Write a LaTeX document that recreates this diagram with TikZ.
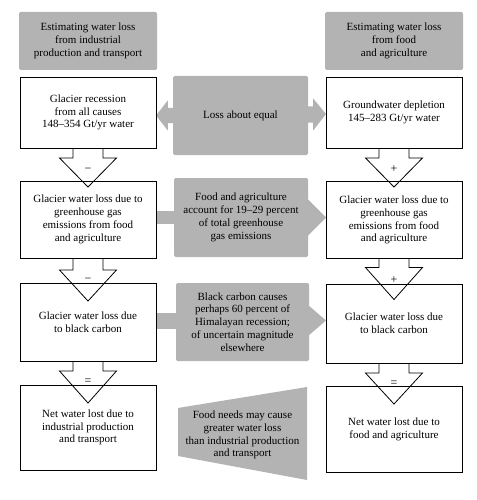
\documentclass[tikz,border=0pt]{standalone}
\usepackage{fontspec}
\setmainfont{Liberation Serif}
\usetikzlibrary{calc}
\definecolor{boxgray}{RGB}{179,179,179}
\begin{document}
\begin{tikzpicture}[x=1pt,y=-1pt,
  box/.style={draw=black, line width=0.8pt, align=center, inner sep=0pt, minimum width=136pt, font=\fontsize{11}{12.8}\selectfont},
  headbox/.style={fill=boxgray, rounded corners=1.5pt, align=center, inner sep=0pt, minimum width=138pt, minimum height=58pt, font=\fontsize{11}{12.8}\selectfont},
  midbox/.style={fill=boxgray, rounded corners=1.5pt, align=center, inner sep=0pt, font=\fontsize{11}{12.8}\selectfont},
  plaintext/.style={align=center, inner sep=0pt, font=\fontsize{11}{12.8}\selectfont},
  blockarrow/.style={draw=black, fill=white, line width=0.8pt},
  signlabel/.style={inner sep=0pt, font=\fontsize{12}{12}\selectfont}
]
\useasboundingbox (0,0) rectangle (476,500);

% bottom-centre points of the white boxes (sources of the block arrows)
\coordinate (l1s) at (88,148);
\coordinate (l2s) at (88,258);
\coordinate (l3s) at (88,361);
\coordinate (r1s) at (394,148);
\coordinate (r2s) at (394,258.5);
\coordinate (r3s) at (394,363);

% block arrows (drawn first)
\filldraw[blockarrow] (l1s) ++(-15,0) -- ++(0,10) -- ++(-13.5,0) -- ++(28.5,29) -- ++(28.5,-29) -- ++(-13.5,0) -- ++(0,-10);
\filldraw[blockarrow] (l2s) ++(-15,0) -- ++(0,12) -- ++(-13.5,0) -- ++(28.5,31) -- ++(28.5,-31) -- ++(-13.5,0) -- ++(0,-12);
\filldraw[blockarrow] (l3s) ++(-15,0) -- ++(0,10) -- ++(-13.5,0) -- ++(28.5,32) -- ++(28.5,-32) -- ++(-13.5,0) -- ++(0,-10);
\filldraw[blockarrow] (r1s) ++(-15,0) -- ++(0,10) -- ++(-13.5,0) -- ++(28.5,29) -- ++(28.5,-29) -- ++(-13.5,0) -- ++(0,-10);
\filldraw[blockarrow] (r2s) ++(-15,0) -- ++(0,9) -- ++(-13.5,0) -- ++(28.5,32) -- ++(28.5,-32) -- ++(-13.5,0) -- ++(0,-9);
\filldraw[blockarrow] (r3s) ++(-15,0) -- ++(0,10) -- ++(-13.5,0) -- ++(28.5,31) -- ++(28.5,-31) -- ++(-13.5,0) -- ++(0,-10);

% headers
\node[headbox] (hl) at (88,41) {Estimating water loss\\from industrial\\production and transport};
\node[headbox] (hr) at (394,41) {Estimating water loss\\from food\\and agriculture};

% middle gray shapes
\node[midbox, minimum width=135pt, minimum height=79pt] (m1) at (240.5,115.5) {Loss about equal};
\node[midbox, minimum width=134pt, minimum height=79pt] (m2) at (241,217.5) {Food and agriculture\\account for 19--29 percent\\of total greenhouse\\gas emissions};
\node[midbox, minimum width=133pt, minimum height=78pt] (m3) at (242.5,322) {Black carbon causes\\perhaps 60 percent of\\Himalayan recession;\\of uncertain magnitude\\elsewhere};

% gray connectors of m1
\fill[boxgray] ($(m1.west)+(1,-7.5)$) -- ($(m1.west)+(-5,-7.5)$) -- ($(m1.west)+(-5,-15)$)
  -- (156,115.5) -- ($(m1.west)+(-5,15)$) -- ($(m1.west)+(-5,7.5)$) -- ($(m1.west)+(1,7.5)$) -- cycle;
\fill[boxgray] ($(m1.east)+(-1,-9)$) -- ($(m1.east)+(5,-9)$) -- ($(m1.east)+(5,-17)$)
  -- (326,114) -- ($(m1.east)+(5,15)$) -- ($(m1.east)+(5,7)$) -- ($(m1.east)+(-1,7)$) -- cycle;
% gray connectors of m2
\fill[boxgray] ($(m2.west)+(1,-6.5)$) -- (156,211) -- (156,224) -- ($(m2.west)+(1,6.5)$) -- cycle;
\fill[boxgray] ($(m2.east)+(-1,-18)$) -- ($(m2.east)+(0,-18)$) -- (326,217.5) -- ($(m2.east)+(0,18)$) -- ($(m2.east)+(-1,18)$) -- cycle;
% gray connectors of m3
\fill[boxgray] ($(m3.west)+(1,-9)$) -- (156,313) -- (156,329) -- ($(m3.west)+(1,7)$) -- cycle;
\fill[boxgray] ($(m3.east)+(-1,-16)$) -- ($(m3.east)+(0,-16)$) -- (326,320.5) -- ($(m3.east)+(0,13)$) -- ($(m3.east)+(-1,13)$) -- cycle;

% trapezoid
\fill[boxgray] (178,408) -- (307,387) -- (307,480) -- (178,456) -- cycle;
\node[plaintext] (m4) at (242.5,435) {Food needs may cause\\greater water loss\\than industrial production\\and transport};

% white boxes (unfilled, so the arrows stay visible)
\node[box, minimum height=71pt] (l1) at (88,112.5) {Glacier recession\\from all causes\\148--354 Gt/yr water};
\node[box, minimum height=71pt] (r1) at (394,112.5) {Groundwater depletion\\145--283 Gt/yr water};
\node[box, minimum height=77pt] (l2) at (88,219.5) {Glacier water loss due to\\greenhouse gas\\emissions from food\\and agriculture};
\node[box, minimum height=77pt] (r2) at (394,220) {Glacier water loss due to\\greenhouse gas\\emissions from food\\and agriculture};
\node[box, minimum height=78pt] (l3) at (88,322) {Glacier water loss due\\to black carbon};
\node[box, minimum height=79pt] (r3) at (394,323.5) {Glacier water loss due\\to black carbon};
\node[box, minimum height=85pt] (l4) at (88,427.5) {Net water lost due to\\industrial production\\and transport};
\node[box, minimum height=86pt] (r4) at (394,429.5) {Net water lost due to\\food and agriculture};

% signs
\node[signlabel] (s1) at ($(l1s)+(0,22)$) {−};
\node[signlabel] (s2) at ($(l2s)+(0,22.5)$) {−};
\node[signlabel] (s3) at ($(l3s)+(0,21)$) {=};
\node[signlabel] (s4) at ($(r1s)+(0,21)$) {+};
\node[signlabel] (s5) at ($(r2s)+(0,21.5)$) {+};
\node[signlabel] (s6) at ($(r3s)+(0,21)$) {=};
\end{tikzpicture}
\end{document}
